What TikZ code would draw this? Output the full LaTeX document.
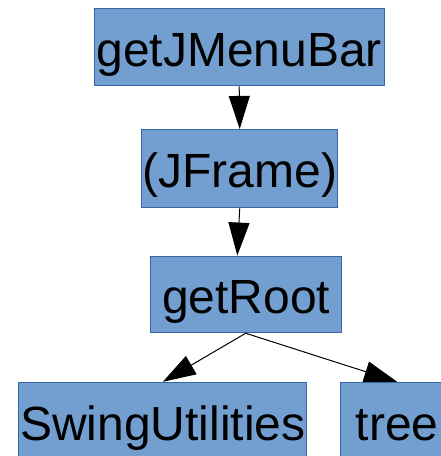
\documentclass[tikz,border=0pt]{standalone}
\usepackage{fontspec}
\setmainfont{Liberation Sans}
\usetikzlibrary{arrows.meta}
\definecolor{boxblue}{RGB}{114,159,207}
\definecolor{boxedge}{RGB}{52,101,164}
\tikzstyle{callbox}=[draw=boxedge,fill=boxblue,line width=1pt,inner sep=0pt,text height=38pt,text depth=0pt,font=\fontsize{48}{58}\selectfont]
\tikzstyle{callarrow}=[draw=black,line width=1pt,-{Triangle[length=33pt,width=21pt]}]

\begin{document}
\begin{tikzpicture}[x=1pt,y=-1pt]
  \useasboundingbox (0,0) rectangle (440,456);
  \node (menubar) [callbox,minimum width=290pt,minimum height=77.5pt] at (239.2,47) {getJMenuBar};
  \node (jframe) [callbox,minimum width=196pt,minimum height=78.5pt] at (239.7,168.7) {(JFrame)};
  \node (root) [callbox,minimum width=190.7pt,minimum height=76.7pt] at (246.3,294.4) {getRoot};
  \node (swing) [callbox,minimum width=287.7pt,minimum height=78pt] at (162.8,421.3) {SwingUtilities};
  \node (tree) [callbox,minimum width=113pt,minimum height=78pt] at (397.2,421.3) {tree};

  \draw[callarrow] (menubar.south) -- (jframe.north);
  \draw[callarrow] (jframe.south) -- ([xshift=-9pt]root.north);
  \draw[callarrow] ([xshift=-0.6pt]root.south) -- (swing.north);
  \draw[callarrow] ([xshift=-0.6pt]root.south) -- (tree.north);
\end{tikzpicture}
\end{document}
